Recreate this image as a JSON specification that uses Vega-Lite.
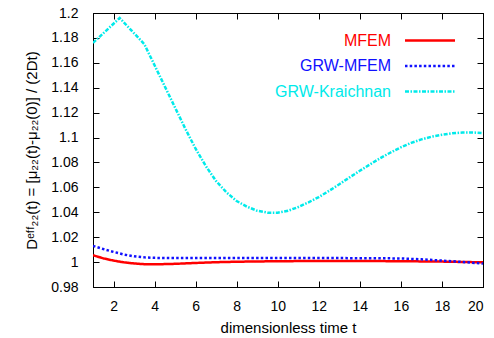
{
  "$schema": "https://vega.github.io/schema/vega-lite/v6.json",
  "width": 390,
  "height": 274,
  "autosize": {"type": "none"},
  "padding": {"left": 93, "top": 13, "right": 11, "bottom": 51},
  "background": "white",
  "config": {
    "font": "Liberation Sans",
    "view": {"stroke": "black", "strokeWidth": 1},
    "axis": {
      "grid": false,
      "domainColor": "black",
      "tickColor": "black",
      "tickSize": -6,
      "labelColor": "black",
      "labelFontSize": 14,
      "titleFontSize": 15,
      "titleFontWeight": "normal",
      "titleColor": "black"
    }
  },
  "data": {
    "values": [
      {"s": "MFEM", "t": 1.0, "v": 1.0055},
      {"s": "MFEM", "t": 1.5, "v": 1.003},
      {"s": "MFEM", "t": 2.0, "v": 1.0012},
      {"s": "MFEM", "t": 2.5, "v": 0.9998},
      {"s": "MFEM", "t": 3.0, "v": 0.9989},
      {"s": "MFEM", "t": 3.5, "v": 0.9983},
      {"s": "MFEM", "t": 4.0, "v": 0.9982},
      {"s": "MFEM", "t": 5.0, "v": 0.9986},
      {"s": "MFEM", "t": 6.0, "v": 0.9993},
      {"s": "MFEM", "t": 7.0, "v": 0.9999},
      {"s": "MFEM", "t": 8.0, "v": 1.0003},
      {"s": "MFEM", "t": 10.0, "v": 1.0007},
      {"s": "MFEM", "t": 12.0, "v": 1.0009},
      {"s": "MFEM", "t": 14.0, "v": 1.0009},
      {"s": "MFEM", "t": 16.0, "v": 1.0007},
      {"s": "MFEM", "t": 18.0, "v": 1.0004},
      {"s": "MFEM", "t": 20.0, "v": 0.9998},
      {"s": "GRW-MFEM", "t": 1.0, "v": 1.013},
      {"s": "GRW-MFEM", "t": 1.5, "v": 1.0105},
      {"s": "GRW-MFEM", "t": 2.0, "v": 1.0082},
      {"s": "GRW-MFEM", "t": 2.5, "v": 1.0061},
      {"s": "GRW-MFEM", "t": 3.0, "v": 1.0046},
      {"s": "GRW-MFEM", "t": 3.5, "v": 1.0038},
      {"s": "GRW-MFEM", "t": 4.0, "v": 1.0034},
      {"s": "GRW-MFEM", "t": 5.0, "v": 1.0032},
      {"s": "GRW-MFEM", "t": 7.0, "v": 1.0032},
      {"s": "GRW-MFEM", "t": 10.0, "v": 1.0032},
      {"s": "GRW-MFEM", "t": 13.0, "v": 1.0032},
      {"s": "GRW-MFEM", "t": 15.0, "v": 1.0031},
      {"s": "GRW-MFEM", "t": 16.0, "v": 1.0029},
      {"s": "GRW-MFEM", "t": 17.0, "v": 1.0022},
      {"s": "GRW-MFEM", "t": 18.0, "v": 1.0012},
      {"s": "GRW-MFEM", "t": 19.0, "v": 1.0001},
      {"s": "GRW-MFEM", "t": 20.0, "v": 0.9988},
      {"s": "GRW-Kraichnan", "t": 1.0, "v": 1.176},
      {"s": "GRW-Kraichnan", "t": 2.3, "v": 1.196},
      {"s": "GRW-Kraichnan", "t": 3.5, "v": 1.175},
      {"s": "GRW-Kraichnan", "t": 4.0, "v": 1.158},
      {"s": "GRW-Kraichnan", "t": 4.5, "v": 1.141},
      {"s": "GRW-Kraichnan", "t": 5.0, "v": 1.124},
      {"s": "GRW-Kraichnan", "t": 5.5, "v": 1.107},
      {"s": "GRW-Kraichnan", "t": 6.0, "v": 1.091},
      {"s": "GRW-Kraichnan", "t": 6.5, "v": 1.077},
      {"s": "GRW-Kraichnan", "t": 7.0, "v": 1.065},
      {"s": "GRW-Kraichnan", "t": 7.5, "v": 1.056},
      {"s": "GRW-Kraichnan", "t": 8.0, "v": 1.049},
      {"s": "GRW-Kraichnan", "t": 8.5, "v": 1.0445},
      {"s": "GRW-Kraichnan", "t": 9.0, "v": 1.0412},
      {"s": "GRW-Kraichnan", "t": 9.5, "v": 1.0397},
      {"s": "GRW-Kraichnan", "t": 10.0, "v": 1.0397},
      {"s": "GRW-Kraichnan", "t": 10.5, "v": 1.0412},
      {"s": "GRW-Kraichnan", "t": 11.0, "v": 1.0442},
      {"s": "GRW-Kraichnan", "t": 11.5, "v": 1.048},
      {"s": "GRW-Kraichnan", "t": 12.0, "v": 1.0522},
      {"s": "GRW-Kraichnan", "t": 12.5, "v": 1.0572},
      {"s": "GRW-Kraichnan", "t": 13.0, "v": 1.0625},
      {"s": "GRW-Kraichnan", "t": 13.5, "v": 1.068},
      {"s": "GRW-Kraichnan", "t": 14.0, "v": 1.0733},
      {"s": "GRW-Kraichnan", "t": 14.5, "v": 1.0785},
      {"s": "GRW-Kraichnan", "t": 15.0, "v": 1.0835},
      {"s": "GRW-Kraichnan", "t": 15.5, "v": 1.088},
      {"s": "GRW-Kraichnan", "t": 16.0, "v": 1.0922},
      {"s": "GRW-Kraichnan", "t": 16.5, "v": 1.0957},
      {"s": "GRW-Kraichnan", "t": 17.0, "v": 1.0985},
      {"s": "GRW-Kraichnan", "t": 17.5, "v": 1.1007},
      {"s": "GRW-Kraichnan", "t": 18.0, "v": 1.1022},
      {"s": "GRW-Kraichnan", "t": 18.5, "v": 1.1034},
      {"s": "GRW-Kraichnan", "t": 19.0, "v": 1.104},
      {"s": "GRW-Kraichnan", "t": 19.5, "v": 1.1041},
      {"s": "GRW-Kraichnan", "t": 20.0, "v": 1.1036}
    ]
  },
  "layer": [
    {
      "mark": {"type": "line", "strokeWidth": 2.5, "clip": true},
      "encoding": {
        "x": {
          "field": "t", "type": "quantitative",
          "scale": {"domain": [1, 20], "nice": false, "zero": false},
          "axis": {"orient": "bottom", "values": [2, 4, 6, 8, 10, 12, 14, 16, 18, 20], "title": "dimensionless time t", "labelPadding": 18, "titlePadding": 7}
        },
        "y": {
          "field": "v", "type": "quantitative",
          "scale": {"domain": [0.98, 1.2], "nice": false, "zero": false},
          "axis": {"orient": "left", "values": [0.98, 1, 1.02, 1.04, 1.06, 1.08, 1.1, 1.12, 1.14, 1.16, 1.18, 1.2], "format": "~g", "labelPadding": 21, "title": "Dᵉᶠᶠ₂₂(t) = [μ₂₂(t)-μ₂₂(0)] / (2Dt)", "titlePadding": 11}
        },
        "color": {
          "field": "s", "type": "nominal",
          "scale": {"domain": ["MFEM", "GRW-MFEM", "GRW-Kraichnan"], "range": ["#ff0000", "#1010ff", "#00eaea"]},
          "legend": {
            "title": null,
            "orient": "none",
            "legendX": 329,
            "legendY": 19.5,
            "padding": 0,
            "symbolType": "M-5,0H5",
            "symbolSize": 100,
            "symbolStrokeWidth": 2.5,
            "rowPadding": 9.5,
            "labelFontSize": 16,
            "labelAlign": "right",
            "labelOffset": -47,
            "labelLimit": 300,
            "encode": {
              "labels": {"update": {"fill": {"scale": "color", "field": "value"}}},
              "symbols": {"update": {"fill": {"value": "transparent"}}}
            }
          }
        },
        "strokeDash": {
          "field": "s", "type": "nominal",
          "scale": {"domain": ["MFEM", "GRW-MFEM", "GRW-Kraichnan"], "range": [[1, 0], [2.5, 2.2], [4, 1.5, 1.5, 1.5]]}
        }
      }
    },
    {
      "mark": {"type": "line", "opacity": 0},
      "encoding": {
        "x": {"field": "t", "type": "quantitative", "axis": {"orient": "top", "values": [2, 4, 6, 8, 10, 12, 14, 16, 18, 20], "labels": false, "title": null}},
        "y": {"field": "v", "type": "quantitative", "axis": {"orient": "right", "values": [0.98, 1, 1.02, 1.04, 1.06, 1.08, 1.1, 1.12, 1.14, 1.16, 1.18, 1.2], "labels": false, "title": null}}
      }
    }
  ],
  "resolve": {"axis": {"x": "independent", "y": "independent"}}
}
